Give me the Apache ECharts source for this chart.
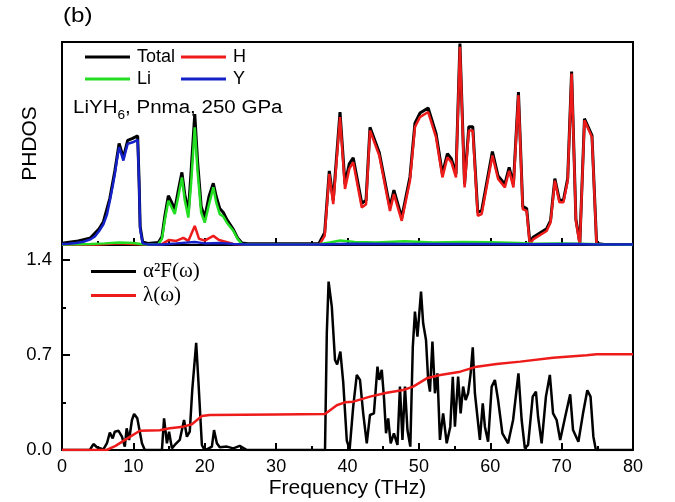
<!DOCTYPE html>
<html>
<head>
<meta charset="utf-8">
<script src="https://cdn.jsdelivr.net/npm/echarts@6/dist/echarts.min.js"></script>
<style>
  html, body { margin: 0; padding: 0; background: #fff; }
  #chart { width: 675px; height: 502px; }
</style>
</head>
<body>
<div id="chart"></div>
<script>
// Frequency axis (THz)
const freqTicks = [0, 10, 20, 30, 40, 50, 60, 70, 80];
const couplingTicks = [0.0, 0.7, 1.4];

// Phonon density of states, [frequency (THz), DOS (arb. units)]
const totalDos = [[0,0.9],[2,1.8],[4,3.5],[5.2,8],[5.8,11.5],[6.7,23],[7.4,36.5],[8.0,50],[8.6,43],[9.2,51.5],[9.9,52.5],[10.6,53.8],[10.8,31.5],[10.95,9],[11.3,1.5],[12,0.8],[13.5,1.2],[14.0,4],[14.4,14],[14.9,24.3],[15.3,21.5],[15.8,17.5],[16.3,27],[16.8,35.8],[17.2,25],[17.7,16],[18.1,37],[18.6,64.5],[19.0,41],[19.5,19],[20.0,13.5],[20.6,24],[21.2,30.4],[21.6,24],[22.1,18],[22.6,16],[23.1,12.5],[24.0,7.7],[24.6,3.5],[25.2,1],[26,0.6],[36,0.8],[36.8,6],[37.45,36.5],[38.0,22],[38.95,65.5],[39.65,30],[40.25,40],[40.8,43],[42.0,20.5],[42.6,22],[43.15,58],[44.45,45.5],[45.95,18.5],[46.5,27],[47.6,13.5],[48.75,33.5],[49.45,60],[50.15,65],[51.3,67.5],[52.4,55],[53.3,35],[54.0,45],[54.55,42.5],[55.2,35],[55.75,99.2],[56.4,30],[57.0,58.3],[57.55,58.3],[58.25,16],[58.8,17],[60.3,46],[61.1,34],[62.05,30],[62.65,38.2],[63.25,30],[63.95,75.3],[64.55,19],[65.1,18],[65.55,1],[66.0,3.8],[67.9,8],[68.45,12],[69.05,32.7],[69.7,22],[70.25,22],[70.85,32.7],[71.4,85.5],[72.0,12.7],[72.55,0.8],[73.2,62.2],[74.25,54],[74.9,0.7],[76,0.3],[80,0.2]];
const hDos = [[0,0.1],[5,0.3],[8,0.8],[10,0.5],[12,0.2],[14,0.4],[15,2.5],[16,2.0],[17,3.5],[17.7,2.0],[18.6,9.4],[19.2,3],[20,2.2],[21.2,4.5],[22,2.5],[23,1.5],[24,0.5],[26,0.1],[35,0.1],[36.1,0.3],[36.8,4.5],[37.45,35],[38.0,20.1],[38.95,63],[39.65,27.6],[40.25,37.5],[40.8,40.8],[42.0,18.5],[42.6,20.1],[43.15,56.4],[44.45,44.1],[45.95,16.8],[46.5,25.1],[47.6,11.9],[48.75,31.7],[49.45,58.1],[50.15,63],[51.3,65.5],[52.4,53.1],[53.3,33.3],[54.0,43.2],[54.55,40.8],[55.2,33.3],[55.75,97.7],[56.4,28.4],[57.0,56.4],[57.55,56.4],[58.25,14.4],[58.8,15.2],[60.3,44.1],[61.1,32.5],[62.05,28.4],[62.65,36.6],[63.25,28.4],[63.95,73.8],[64.55,17.7],[65.1,16.8],[65.55,0],[66.0,2.8],[67.9,6.9],[68.45,11.1],[69.05,31.7],[69.7,21],[70.25,21],[70.85,31.7],[71.4,84.5],[72.0,11.9],[72.55,0],[73.2,61.4],[74.25,53.1],[74.9,0]];
const liDos = [[0,0.3],[4,0.5],[6,0.8],[8,1.2],[10,1.0],[11,0.5],[12,0.3],[13.5,0.5],[14.0,3],[14.4,12],[14.9,21.8],[15.3,19],[15.8,15.3],[16.3,24],[16.8,33.3],[17.2,22],[17.7,13.5],[18.1,31],[18.6,58],[19.0,36],[19.5,16],[20.0,11],[20.6,20],[21.2,28.4],[21.6,21],[22.1,15.2],[22.6,14],[23.1,11],[24.0,7],[24.6,3],[25.2,0.5],[26,0.3],[36,0.4],[37.5,1.2],[39,2.2],[41,1.5],[44,1.2],[48,1.8],[52,1.2],[56,1.5],[60,1.3],[64,1.0],[66,0.6],[70,0.8],[74,0.5],[76,0.2],[80,0.1]];
const yDos = [[0,0.5],[1,0.6],[2,1.0],[3,1.6],[4,2.8],[4.6,4.2],[5.2,6.9],[5.8,10.2],[6.3,15],[6.7,21.8],[7.1,29],[7.4,35],[7.7,42],[8.0,48.2],[8.3,45],[8.6,41.6],[8.9,46],[9.2,49.8],[9.9,50.6],[10.6,51.8],[10.8,30],[10.95,8],[11.3,0.8],[12,0.3],[14,0.3],[16,0.8],[18.6,1.5],[20,0.8],[22,1],[24,0.5],[26,0.2],[36,0.2],[40,0.6],[50,0.5],[60,0.5],[66,0.4],[72,0.5],[75,0.3],[80,0.2]];

// Eliashberg spectral function α²F(ω)
const a2F = [[0,0],[3.9,0],[4.4,0.044],[4.9,0.02],[5.8,0.005],[6.3,0.05],[6.7,0.128],[7.1,0.086],[7.4,0.135],[7.9,0.142],[8.4,0.098],[8.8,0.025],[9.06,0.16],[9.4,0.074],[9.8,0.221],[10.1,0.265],[10.55,0.233],[11.2,0.05],[11.6,0],[14.0,0],[14.3,0.233],[14.7,0.049],[15.0,0.135],[15.4,0.012],[15.8,0.037],[16.5,0.074],[17.1,0.221],[17.5,0.098],[17.9,0.135],[18.25,0.442],[18.8,0.79],[19.1,0.516],[19.6,0.037],[19.9,0.005],[20.3,0.005],[21.0,0.025],[21.3,0.147],[21.7,0.049],[22.1,0.02],[23.1,0.025],[24.0,0.012],[24.9,0.03],[25.9,0],[36.85,0],[37.1,0.86],[37.35,1.24],[37.8,1.056],[38.25,0.663],[38.55,0.63],[39.0,0.725],[39.4,0.5],[39.9,0.07],[40.3,0.005],[40.8,0.32],[41.3,0.553],[41.75,0.516],[42.2,0.27],[42.7,0.049],[43.15,0.258],[43.7,0.27],[44.2,0.614],[44.45,0.516],[44.8,0.59],[45.1,0.393],[45.4,0.123],[45.7,0.233],[46.05,0.049],[46.5,0.123],[47.0,0.037],[47.35,0.467],[47.7,0.074],[48.05,0.467],[48.4,0.147],[48.8,0.025],[49.15,0.76],[49.45,1.02],[49.8,0.835],[50.3,1.167],[50.6,0.933],[51.0,0.81],[51.3,0.516],[51.55,0.43],[51.9,0.798],[52.25,0.418],[52.6,0.565],[52.95,0.074],[53.4,0.27],[53.9,0.049],[54.4,0.172],[54.75,0.54],[55.05,0.172],[55.5,0.54],[55.85,0.27],[56.2,0.467],[56.55,0.368],[56.9,0.418],[57.25,0.565],[57.55,0.756],[57.85,0.418],[58.2,0.245],[58.55,0.074],[58.95,0.344],[59.25,0.172],[59.7,0.061],[60.2,0.467],[60.65,0.516],[61.1,0.368],[61.7,0.123],[62.5,0.049],[63.2,0.221],[63.95,0.565],[64.4,0.221],[64.85,0.012],[65.3,0.037],[65.95,0.393],[66.4,0.43],[66.7,0.245],[67.2,0.049],[67.8,0.393],[68.35,0.553],[68.8,0.27],[69.3,0.221],[69.8,0.074],[70.5,0.245],[71.2,0.41],[71.6,0.147],[72.35,0.061],[73.0,0.27],[73.6,0.44],[74.05,0.393],[74.45,0.098],[74.8,0],[80,0]];

// Cumulative electron-phonon coupling λ(ω)
const lambdaW = [[0,0],[6.26,0],[7.5,0.03],[9,0.08],[10.9,0.142],[13.7,0.145],[15.1,0.16],[17.0,0.172],[18.2,0.19],[19.6,0.25],[20.7,0.258],[30,0.262],[36.85,0.265],[37.1,0.27],[38.5,0.33],[39.65,0.351],[40.8,0.356],[43.15,0.393],[45.5,0.422],[47.8,0.442],[49.2,0.467],[51.1,0.528],[53.0,0.553],[55.8,0.577],[58.1,0.614],[60.9,0.634],[64.2,0.651],[68.8,0.68],[73.5,0.698],[74.9,0.705],[80,0.705]];

const sans = 'Liberation Sans, Arial, sans-serif';
const serif = 'Liberation Serif, Times New Roman, serif';
const RED = '#ee1b1b', GREEN = '#22dd22', BLUE = '#1420c8';

const chart = echarts.init(document.getElementById('chart'), null, { renderer: 'canvas' });

function legendAt(name, left, top, font, size) {
  return {
    data: [name], left: left, top: top, orient: 'horizontal',
    icon: 'rect', itemWidth: 45, itemHeight: 3, itemGap: 0,
    selectedMode: false, padding: 0,
    textStyle: { fontFamily: font, fontSize: size, color: '#000', padding: [0, 0, 0, 2] }
  };
}

const tickStyle = { color: '#000', width: 2 };

const option = {
  animation: false,
  backgroundColor: '#fff',
  grid: [
    { left: 62, right: 42, top: 42, height: 203, show: true, borderColor: '#000', borderWidth: 2, backgroundColor: 'transparent' },
    { left: 62, right: 42, top: 245, height: 205, show: true, borderColor: '#000', borderWidth: 2, backgroundColor: 'transparent' }
  ],
  xAxis: [
    {
      gridIndex: 0, type: 'value', min: 0, max: 80, interval: 10,
      axisLine: { show: false }, splitLine: { show: false },
      axisLabel: { show: false },
      axisTick: { show: true, inside: true, length: 7, lineStyle: tickStyle },
      minorTick: { show: true, splitNumber: 2, length: 4, lineStyle: tickStyle }
    },
    {
      gridIndex: 1, type: 'value', min: 0, max: 80, interval: 10,
      axisLine: { show: false }, splitLine: { show: false },
      axisLabel: {
        show: true, margin: 8, fontFamily: sans, fontSize: 18, color: '#000',
        formatter: v => (freqTicks.indexOf(v) >= 0 ? String(v) : '')
      },
      axisTick: { show: true, inside: true, length: 7, lineStyle: tickStyle },
      minorTick: { show: true, splitNumber: 2, length: 4, lineStyle: tickStyle },
      name: 'Frequency (THz)', nameLocation: 'middle', nameGap: 28,
      nameTextStyle: { fontFamily: sans, fontSize: 21, color: '#000' }
    }
  ],
  yAxis: [
    {
      gridIndex: 0, type: 'value', min: 0, max: 100,
      axisLine: { show: false }, splitLine: { show: false },
      axisLabel: { show: false }, axisTick: { show: false },
      name: 'PHDOS', nameLocation: 'middle', nameGap: 21, nameRotate: 90,
      nameTextStyle: { fontFamily: sans, fontSize: 21, color: '#000' }
    },
    {
      gridIndex: 1, type: 'value', position: 'left', min: 0, max: 1.51, interval: 0.7,
      axisLine: { show: false }, splitLine: { show: false },
      axisLabel: {
        show: true, margin: 10, fontFamily: sans, fontSize: 18.5, color: '#000',
        formatter: v => (couplingTicks.some(t => Math.abs(t - v) < 1e-6) ? v.toFixed(1) : '')
      },
      axisTick: { show: true, inside: true, length: 8, lineStyle: tickStyle }
    },
    {
      gridIndex: 1, type: 'value', position: 'left', min: 0, max: 1.51, interval: 0.35,
      axisLine: { show: false }, splitLine: { show: false },
      axisLabel: { show: false },
      axisTick: { show: true, inside: true, length: 4, lineStyle: tickStyle }
    }
  ],
  legend: [
    legendAt('Total', 85, 48, sans, 18),
    legendAt('H', 181, 48, sans, 18),
    legendAt('Li', 85, 70, sans, 18),
    legendAt('Y', 181, 70, sans, 18),
    legendAt('α²F(ω)', 91, 261, serif, 21),
    legendAt('λ(ω)', 91, 285, serif, 21)
  ],
  graphic: [
    {
      type: 'text', left: 63, top: 6, scaleX: 1.15,
      style: { text: '(b)', fontFamily: sans, fontSize: 21, fill: '#000' }
    },
    {
      type: 'text', x: 73, y: 95, scaleX: 1.14,
      style: {
        text: '{a|LiYH}{s|6}{a|, Pnma, 250 GPa}',
        rich: {
          a: { fontFamily: sans, fontSize: 18, fill: '#000', lineHeight: 22, verticalAlign: 'bottom' },
          s: { fontFamily: sans, fontSize: 12, fill: '#000', lineHeight: 22, verticalAlign: 'bottom', padding: [0, 0, -5, 0] }
        }
      }
    }
  ],
  series: [
    { name: 'Total', type: 'line', xAxisIndex: 0, yAxisIndex: 0, data: totalDos, showSymbol: false, z: 2,
      lineStyle: { color: '#000', width: 3 }, itemStyle: { color: '#000' } },
    { name: 'H', type: 'line', xAxisIndex: 0, yAxisIndex: 0, data: hDos, showSymbol: false, z: 3,
      lineStyle: { color: RED, width: 2.5 }, itemStyle: { color: RED } },
    { name: 'Li', type: 'line', xAxisIndex: 0, yAxisIndex: 0, data: liDos, showSymbol: false, z: 4,
      lineStyle: { color: GREEN, width: 2.5 }, itemStyle: { color: GREEN } },
    { name: 'Y', type: 'line', xAxisIndex: 0, yAxisIndex: 0, data: yDos, showSymbol: false, z: 5,
      lineStyle: { color: BLUE, width: 2.5 }, itemStyle: { color: BLUE } },
    { name: 'α²F(ω)', type: 'line', xAxisIndex: 1, yAxisIndex: 1, data: a2F, showSymbol: false, z: 2,
      lineStyle: { color: '#000', width: 2.5 }, itemStyle: { color: '#000' } },
    { name: 'λ(ω)', type: 'line', xAxisIndex: 1, yAxisIndex: 1, data: lambdaW, showSymbol: false, z: 3,
      lineStyle: { color: RED, width: 2.5 }, itemStyle: { color: RED } }
  ]
};

chart.setOption(option);
</script>
</body>
</html>
